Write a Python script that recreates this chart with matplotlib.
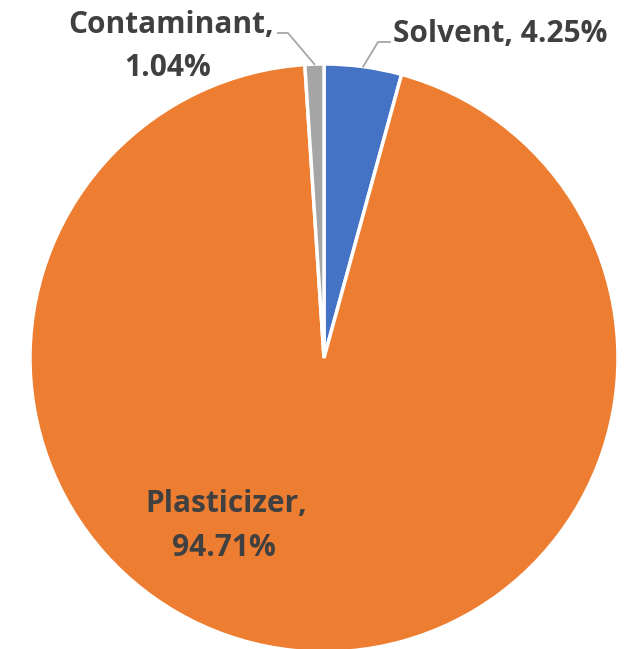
import numpy as np
import matplotlib
matplotlib.use('Agg')
import matplotlib.pyplot as plt

# chart data
labels = ['Solvent', 'Plasticizer', 'Contaminant']
shares = [4.25, 94.71, 1.04]
colors = ['#4472C4', '#ED7D31', '#A5A5A5']

W, H = 638, 649
fig = plt.figure(figsize=(W / 100, H / 100), dpi=100)
ax = fig.add_axes([0, 0, 1, 1])

cx, cy, r = 324, H - 358, 294
wedges, _ = ax.pie(shares, colors=colors, startangle=90, counterclock=False,
                   center=(cx, cy), radius=r, frame=True,
                   wedgeprops=dict(edgecolor='white', linewidth=2.5))
ax.set_xlim(0, W)
ax.set_ylim(0, H)
ax.axis('off')

font = dict(family='Open Sans', weight='bold', size=21.5, color='#404040')


def anchor(w):
    a = np.deg2rad((w.theta1 + w.theta2) / 2)
    return cx + r * np.cos(a), cy + r * np.sin(a)


# solvent label and leader
x0, y0 = anchor(wedges[0])
ax.plot([x0, 378, 390], [y0, H - 42, H - 42], color='#A6A6A6', lw=1.3)
ax.text(393, H - 42, f'{labels[0]}, {shares[0]:.2f}%', ha='left', va='baseline', **font)

# contaminant label and leader
x2, y2 = anchor(wedges[2])
ax.plot([x2, 288, 278], [y2, H - 33, H - 33], color='#A6A6A6', lw=1.3)
ax.text(171, H - 33, f'{labels[2]},', ha='center', va='baseline', **font)
ax.text(168, H - 76, f'{shares[2]:.2f}%', ha='center', va='baseline', **font)

# plasticizer label inside the slice
ax.text(226, H - 512, f'{labels[1]},', ha='center', va='baseline', **font)
ax.text(224, H - 556, f'{shares[1]:.2f}%', ha='center', va='baseline', **font)

fig.savefig('out.png', dpi=100)
